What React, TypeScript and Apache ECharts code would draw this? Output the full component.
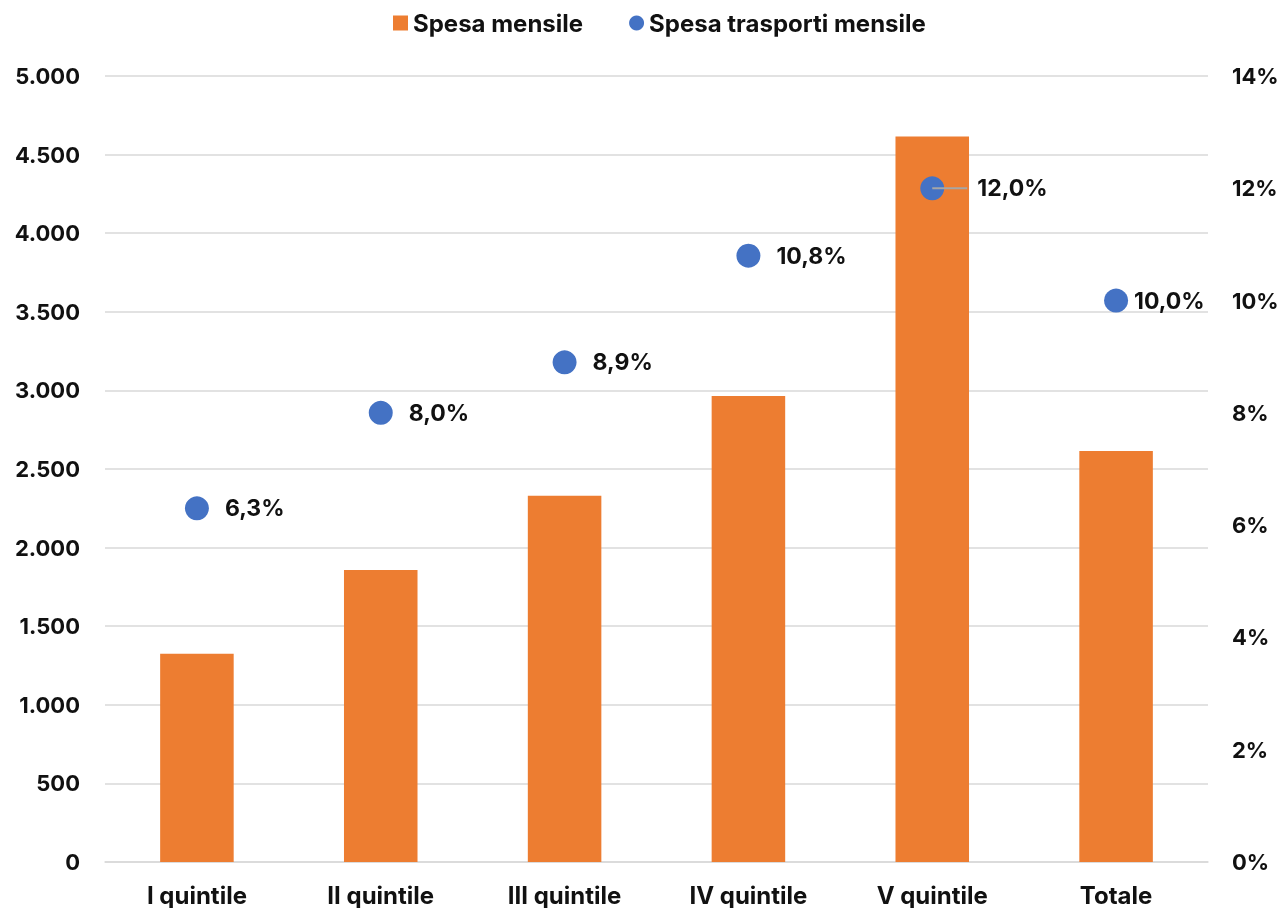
import React, { useEffect, useRef } from "react";
import * as echarts from "echarts";

const categories = ["I quintile", "II quintile", "III quintile", "IV quintile", "V quintile", "Totale"];
const spesaMensile = [1325, 1858, 2330, 2965, 4615, 2615];
const spesaTrasporti = [6.3, 8.0, 8.9, 10.8, 12.0, 10.0];
const leftTicks = { min: 0, max: 5000, interval: 500 };
const rightTicks = { min: 0, max: 14, interval: 2 };

const FONT = "Inter";
const TXT = "#111111";

export default function App() {
  const ref = useRef<HTMLDivElement>(null);
  useEffect(() => {
    if (!ref.current) return;
    const chart = echarts.init(ref.current, undefined, { renderer: "svg" });
    const fmtThousands = (v: number) =>
      String(Math.round(v)).replace(/\B(?=(\d{3})+(?!\d))/g, ".");
    const fmtPct = (v: number) => `${v.toFixed(1).replace(".", ",")}%`;
    chart.setOption({
      animation: false,
      textStyle: { fontFamily: FONT },
      legend: {
        top: 6,
        left: 388,
        itemGap: 46,
        itemWidth: 15,
        itemHeight: 15,
        textStyle: { fontSize: 24, fontWeight: "bold", color: TXT, fontFamily: FONT },
        data: [
          { name: "Spesa mensile", icon: "rect" },
          { name: "Spesa trasporti mensile", icon: "circle" },
        ],
      },
      grid: {
        left: 105,
        right: 79,
        top: 76,
        bottom: 46,
        containLabel: false,
        outerBoundsMode: "none",
      },
      xAxis: {
        type: "category",
        data: categories,
        axisLine: { show: true, lineStyle: { color: "#d9d9d9", width: 1.5 } },
        axisTick: { show: false },
        axisLabel: { fontSize: 24, fontWeight: "bold", color: TXT, margin: 21, fontFamily: FONT },
      },
      yAxis: [
        {
          type: "value",
          min: leftTicks.min,
          max: leftTicks.max,
          interval: leftTicks.interval,
          axisLine: { show: false },
          axisTick: { show: false },
          splitLine: { lineStyle: { color: "#d9d9d9", width: 1.5 } },
          axisLabel: {
            fontSize: 22,
            fontWeight: "bold",
            color: TXT,
            margin: 25,
            fontFamily: FONT,
            formatter: (v: number) => fmtThousands(v),
          },
        },
        {
          type: "value",
          min: rightTicks.min,
          max: rightTicks.max,
          interval: rightTicks.interval,
          axisLine: { show: false },
          axisTick: { show: false },
          splitLine: { show: false },
          axisLabel: {
            fontSize: 22,
            fontWeight: "bold",
            color: TXT,
            margin: 24,
            fontFamily: FONT,
            formatter: (v: number) => `${v}%`,
          },
        },
      ],
      series: [
        {
          name: "Spesa mensile",
          type: "bar",
          data: spesaMensile,
          barWidth: "40%",
          itemStyle: { color: "#ED7D31" },
          yAxisIndex: 0,
        },
        {
          name: "Spesa trasporti mensile",
          type: "scatter",
          yAxisIndex: 1,
          symbolSize: 24,
          itemStyle: { color: "#4472C4", opacity: 1 },
          data: spesaTrasporti.map((v, i) => {
            const item: any = { value: [categories[i], v] };
            if (i === 4) {
              item.label = {
                position: [12, 12],
                align: "left",
                verticalAlign: "middle",
                distance: 0,
                formatter: (p: any) => `{line|}{gap|}{val|${fmtPct(p.value[1])}}`,
              };
            }
            if (i === 5) {
              item.label = { distance: 6 };
            }
            return item;
          }),
          label: {
            show: true,
            position: "right",
            distance: 16,
            fontSize: 23,
            fontWeight: "bold",
            color: TXT,
            fontFamily: FONT,
            formatter: (p: any) => fmtPct(p.value[1]),
            rich: {
              line: { width: 35, height: 2, backgroundColor: "#a6a6a6" },
              gap: { width: 10, height: 2 },
              val: { fontSize: 23, fontWeight: "bold", color: TXT, fontFamily: FONT },
            },
          },
          z: 5,
        },
      ],
    });
    return () => chart.dispose();
  }, []);
  return (
    <div
      ref={ref}
      style={{ position: "fixed", left: 0, top: 0, width: 1287, height: 908 }}
    />
  );
}
